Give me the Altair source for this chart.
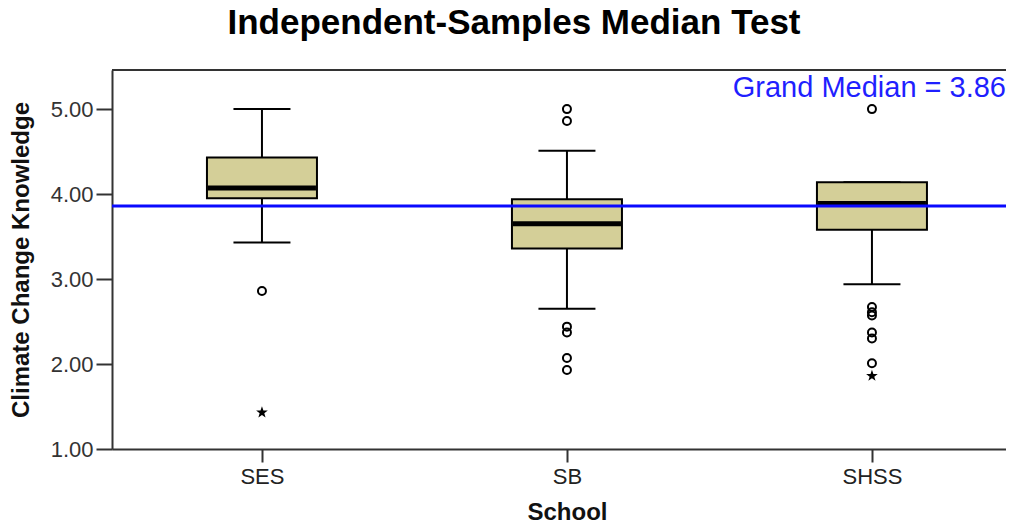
import altair as alt
import pandas as pd

# ---- data ----
schools = ["SES", "SB", "SHSS"]
whisker_low = [3.43, 2.65, 2.94]
q1 = [3.95, 3.36, 3.58]
median = [4.07, 3.65, 3.89]
q3 = [4.43, 3.94, 4.14]
whisker_high = [5.00, 4.51, 4.14]

outlier_school = ["SES", "SB", "SB", "SB", "SB", "SB", "SB",
                  "SHSS", "SHSS", "SHSS", "SHSS", "SHSS", "SHSS", "SHSS"]
outlier_value = [2.86, 5.00, 4.86, 2.44, 2.37, 2.07, 1.93,
                 5.00, 2.67, 2.61, 2.57, 2.37, 2.30, 2.01]

extreme_school = ["SES", "SHSS"]
extreme_value = [1.43, 1.86]

grand_median = 3.86
y_ticks = [1, 2, 3, 4, 5]
y_max = 5.46

FONT = "Liberation Sans"

boxes_df = pd.DataFrame({"school": schools, "lo": whisker_low, "q1": q1,
                         "med": median, "q3": q3, "hi": whisker_high})
out_df = pd.DataFrame({"school": outlier_school, "value": outlier_value})
ext_df = pd.DataFrame({"school": extreme_school, "value": extreme_value})

W, H = 894, 379

xscale = alt.Scale(type="point", domain=schools, padding=0.4656, align=0.528)
yscale = alt.Scale(domain=[1, y_max], nice=False, zero=False)

x_enc = alt.X("school:N", scale=xscale, sort=schools,
              axis=alt.Axis(title="School", labelFontSize=22, labelColor="#222",
                            labelFont=FONT, labelAngle=0, tickSize=13, tickWidth=2,
                            tickColor="#333", domainColor="#333", domainWidth=2,
                            labelPadding=4, titleFontSize=24, titleFont=FONT,
                            titleFontWeight="bold", titleColor="#111",
                            titlePadding=13, titleX=455, grid=False))
y_axis = alt.Axis(title="Climate Change Knowledge", values=y_ticks, format=".2f",
                  labelFontSize=22, labelColor="#333", labelFont=FONT,
                  tickSize=16, tickWidth=2, tickColor="#333", domainColor="#333",
                  domainWidth=2, labelPadding=3, titleFontSize=24, titleFont=FONT,
                  titleFontWeight="bold", titleColor="#111", titlePadding=17,
                  grid=False)

base = alt.Chart(boxes_df)

whisk = base.mark_rule(color="black", strokeWidth=2).encode(
    x=x_enc, y=alt.Y("lo:Q", scale=yscale, axis=y_axis), y2="hi:Q")
caps_lo = base.mark_tick(color="black", thickness=2, size=57, opacity=1).encode(
    x="school:N", y="lo:Q")
caps_hi = base.mark_tick(color="black", thickness=2, size=57, opacity=1).encode(
    x="school:N", y="hi:Q")
box = base.mark_bar(size=110, fill="#d4cf98", stroke="black", strokeWidth=2).encode(
    x="school:N", y="q1:Q", y2="q3:Q")
med = base.mark_tick(color="black", thickness=5, size=108, opacity=1).encode(
    x="school:N", y="med:Q")

gm_line = alt.Chart(pd.DataFrame({"gm": [grand_median]})).mark_rule(
    color="#0a0aff", strokeWidth=3).encode(y="gm:Q")

top_frame = alt.Chart(pd.DataFrame({"gm": [grand_median]})).mark_rule(
    color="#333", strokeWidth=2).encode(x=alt.value(0), x2=alt.value(W), y=alt.value(0))

gm_text = alt.Chart(pd.DataFrame({"t": [f"Grand Median = {grand_median:.2f}"]})).mark_text(
    align="right", baseline="alphabetic", fontSize=29, font=FONT, color="#1f1fff").encode(
    text="t:N", x=alt.value(W), y=alt.value(27))

outs = alt.Chart(out_df).mark_point(shape="circle", filled=False, color="black",
                                    strokeWidth=2, size=64, opacity=1).encode(
    x="school:N", y="value:Q")

star_path = ("M0,-1L0.235,-0.324L0.951,-0.309L0.380,0.124L0.588,0.809L0,0.4"
             "L-0.588,0.809L-0.380,0.124L-0.951,-0.309L-0.235,-0.324Z")
exts = alt.Chart(ext_df).mark_point(shape=star_path, filled=True, color="black",
                                    size=150, opacity=1).encode(
    x="school:N", y="value:Q")

chart = alt.layer(whisk, caps_lo, caps_hi, box, med, gm_line, top_frame,
                  outs, exts, gm_text).properties(
    width=W, height=H,
    title=alt.TitleParams("Independent-Samples Median Test", fontSize=35,
                          font=FONT, fontWeight="bold", color="black",
                          anchor="middle", dx=-45, dy=35, offset=35,
                          baseline="alphabetic"),
    padding={"left": 104, "top": 62, "right": 0, "bottom": 75},
    autosize=alt.AutoSizeParams(type="none"),
).configure_view(stroke=None, fill="#ebebeb").configure(background="white")

chart.save("out.html", embed_options={"renderer": "svg", "actions": False})
